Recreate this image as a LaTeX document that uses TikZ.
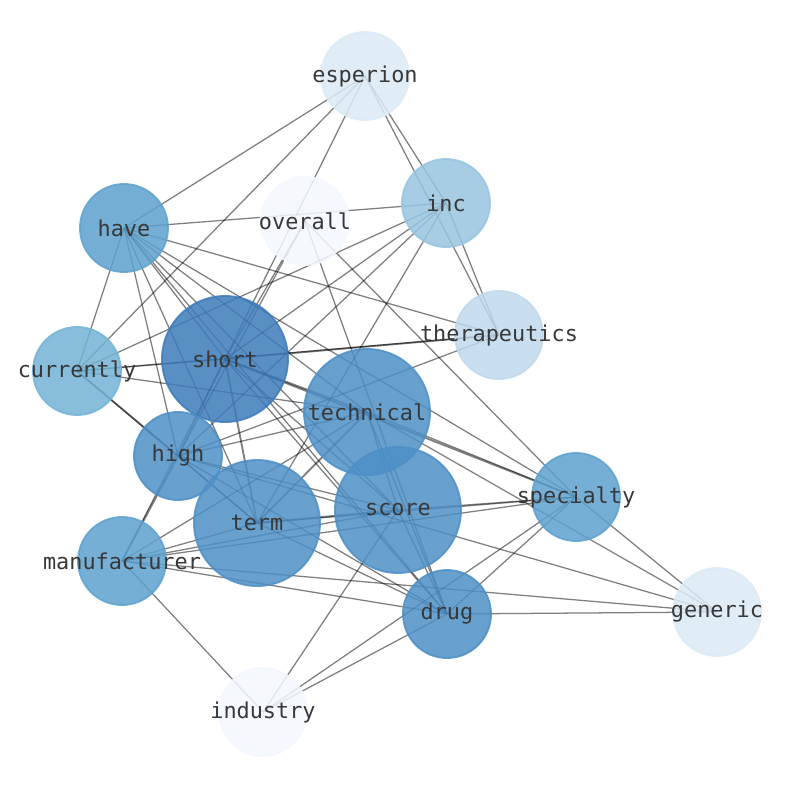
\documentclass[tikz,border=0pt]{standalone}
\usepackage{fontspec}
\newfontfamily\lblfont{DejaVu Sans Mono}
\definecolor{cshort}{HTML}{3D7BBA}
\definecolor{cmid}{HTML}{4D8FC6}
\definecolor{cmed}{HTML}{5EA1CE}
\definecolor{ccur}{HTML}{73B3D6}
\definecolor{cinc}{HTML}{96C4DF}
\definecolor{cther}{HTML}{BFD8EC}
\definecolor{cpale}{HTML}{DAEAF6}
\definecolor{cwhite}{HTML}{F3F8FE}
\definecolor{txt}{HTML}{383838}
\begin{document}
\begin{tikzpicture}[x=0.75pt,y=-0.75pt,
  edge/.style={draw=black,draw opacity=0.5,line width=0.95pt},
  heavy/.style={draw=black,draw opacity=0.5,line width=1.4pt},
  bubble/.style 2 args={circle,inner sep=0pt,minimum size=#1,fill=#2,draw=#2,
    line width=1.4pt,fill opacity=0.85,draw opacity=0.85},
  lbl/.style={font=\lblfont\fontsize{16.4}{18}\selectfont,text=txt,inner sep=0pt}]
\useasboundingbox (0,0) rectangle (794,790);
% centres
\coordinate (esperion) at (365,76);
\coordinate (overall) at (305,221);
\coordinate (inc) at (446,203);
\coordinate (have) at (124,228);
\coordinate (therapeutics) at (499,335);
\coordinate (currently) at (77,371);
\coordinate (short) at (225,359);
\coordinate (technical) at (367,412);
\coordinate (high) at (178,456);
\coordinate (term) at (257,523);
\coordinate (score) at (398,510);
\coordinate (specialty) at (576,497);
\coordinate (manufacturer) at (122,561);
\coordinate (drug) at (447,614);
\coordinate (generic) at (717,612);
\coordinate (industry) at (263,712);
% edges
\draw[edge] (esperion) -- (have);
\draw[edge] (esperion) -- (currently);
\draw[edge] (esperion) -- (short);
\draw[edge] (esperion) -- (inc);
\draw[edge] (esperion) -- (therapeutics);
\draw[edge] (have) -- (inc);
\draw[edge] (have) -- (therapeutics);
\draw[edge] (have) -- (currently);
\draw[edge] (have) -- (high);
\draw[edge] (have) -- (term);
\draw[edge] (have) -- (short);
\draw[edge] (have) -- (technical);
\draw[edge] (have) -- (score);
\draw[edge] (have) -- (drug);
\draw[edge] (have) -- (specialty);
\draw[edge] (inc) -- (currently);
\draw[edge] (inc) -- (short);
\draw[edge] (inc) -- (high);
\draw[edge] (inc) -- (term);
\draw[edge] (inc) -- (therapeutics);
\draw[edge] (overall) -- (high);
\draw[edge] (overall) -- (short);
\draw[edge] (overall) -- (drug);
\draw[edge] (overall) -- (specialty);
\draw[edge] (currently) -- (short);
\draw[edge] (currently) -- (therapeutics);
\draw[edge] (currently) -- (technical);
\draw[heavy] (currently) -- (high);
\draw[edge] (currently) -- (term);
\draw[heavy] (short) -- (therapeutics);
\draw[heavy] (short) -- (technical);
\draw[edge] (short) -- (high);
\draw[heavy] (short) -- (term);
\draw[edge] (short) -- (score);
\draw[edge] (short) -- (drug);
\draw[heavy] (short) -- (specialty);
\draw[edge] (short) -- (manufacturer);
\draw[edge] (technical) -- (specialty);
\draw[edge] (technical) -- (score);
\draw[edge] (technical) -- (drug);
\draw[heavy] (technical) -- (term);
\draw[edge] (technical) -- (high);
\draw[edge] (technical) -- (manufacturer);
\draw[edge] (technical) -- (generic);
\draw[edge] (high) -- (therapeutics);
\draw[heavy] (high) -- (manufacturer);
\draw[edge] (high) -- (term);
\draw[edge] (high) -- (score);
\draw[edge] (high) -- (drug);
\draw[edge] (high) -- (generic);
\draw[heavy] (term) -- (score);
\draw[edge] (term) -- (specialty);
\draw[edge] (term) -- (manufacturer);
\draw[edge] (term) -- (drug);
\draw[edge] (score) -- (specialty);
\draw[edge] (score) -- (drug);
\draw[edge] (score) -- (manufacturer);
\draw[edge] (score) -- (industry);
\draw[edge] (manufacturer) -- (specialty);
\draw[edge] (manufacturer) -- (drug);
\draw[edge] (manufacturer) -- (generic);
\draw[edge] (manufacturer) -- (industry);
\draw[edge] (specialty) -- (drug);
\draw[edge] (specialty) -- (generic);
\draw[edge] (specialty) -- (industry);
\draw[edge] (drug) -- (generic);
\draw[edge] (drug) -- (industry);
% bubbles
\node[bubble={66pt}{cpale}] (c-esperion) at (esperion) {};
\node[bubble={66pt}{cwhite}] (c-overall) at (overall) {};
\node[bubble={66pt}{cinc}] (c-inc) at (inc) {};
\node[bubble={66pt}{cmed}] (c-have) at (have) {};
\node[bubble={66pt}{cther}] (c-therapeutics) at (therapeutics) {};
\node[bubble={66pt}{ccur}] (c-currently) at (currently) {};
\node[bubble={94.5pt}{cshort}] (c-short) at (short) {};
\node[bubble={94.5pt}{cmid}] (c-technical) at (technical) {};
\node[bubble={66pt}{cmid}] (c-high) at (high) {};
\node[bubble={94.5pt}{cmid}] (c-term) at (term) {};
\node[bubble={94.5pt}{cmid}] (c-score) at (score) {};
\node[bubble={66pt}{cmed}] (c-specialty) at (specialty) {};
\node[bubble={66pt}{cmed}] (c-manufacturer) at (manufacturer) {};
\node[bubble={66pt}{cmid}] (c-drug) at (drug) {};
\node[bubble={66pt}{cpale}] (c-generic) at (generic) {};
\node[bubble={66pt}{cwhite}] (c-industry) at (industry) {};
% labels
\node[lbl] (l-esperion) at (esperion) {esperion};
\node[lbl] (l-overall) at (overall) {overall};
\node[lbl] (l-inc) at (inc) {inc};
\node[lbl] (l-have) at (have) {have};
\node[lbl] (l-therapeutics) at (therapeutics) {therapeutics};
\node[lbl] (l-currently) at (currently) {currently};
\node[lbl] (l-short) at (short) {short};
\node[lbl] (l-technical) at (technical) {technical};
\node[lbl] (l-high) at (high) {high};
\node[lbl] (l-term) at (term) {term};
\node[lbl] (l-score) at (score) {score};
\node[lbl] (l-specialty) at (specialty) {specialty};
\node[lbl] (l-manufacturer) at (manufacturer) {manufacturer};
\node[lbl] (l-drug) at (drug) {drug};
\node[lbl] (l-generic) at (generic) {generic};
\node[lbl] (l-industry) at (industry) {industry};
\end{tikzpicture}
\end{document}
